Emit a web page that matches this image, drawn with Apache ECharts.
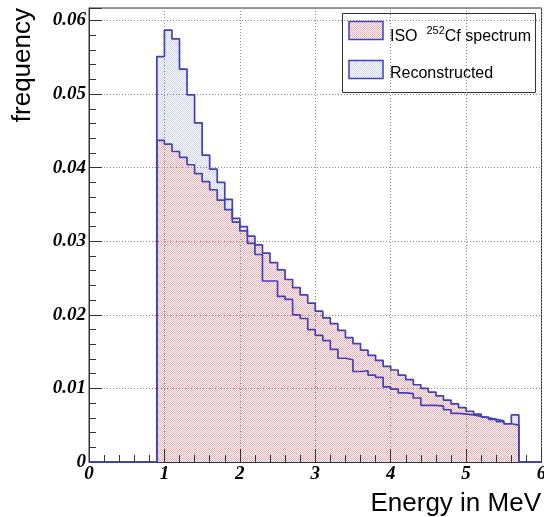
<!DOCTYPE html>
<html>
<head>
<meta charset="utf-8">
<script src="https://cdn.jsdelivr.net/npm/echarts@6/dist/echarts.min.js"></script>
<style>
html,body{margin:0;padding:0;background:#fff;}
#chart{width:544px;height:517px;}
</style>
</head>
<body>
<div id="chart"></div>
<script>
// Lower bin edges (MeV), bin width 0.1
const binLow = [0.0,0.1,0.2,0.3,0.4,0.5,0.6,0.7,0.8,0.9,
  1.0,1.1,1.2,1.3,1.4,1.5,1.6,1.7,1.8,1.9,
  2.0,2.1,2.2,2.3,2.4,2.5,2.6,2.7,2.8,2.9,
  3.0,3.1,3.2,3.3,3.4,3.5,3.6,3.7,3.8,3.9,
  4.0,4.1,4.2,4.3,4.4,4.5,4.6,4.7,4.8,4.9,
  5.0,5.1,5.2,5.3,5.4,5.5,5.6,5.7,5.8,5.9];
const lastEdge = 6.0;

const isoValues = [0,0,0,0,0,0,0,0,0,0.0437,
  0.0432,0.0422,0.0414,0.0404,0.0392,0.0381,0.0370,0.0356,0.0343,0.0326,
  0.0314,0.0307,0.0295,0.0284,0.0271,0.0261,0.0248,0.0237,0.0227,0.0216,
  0.0205,0.0196,0.0188,0.0179,0.0169,0.0161,0.0152,0.0145,0.0138,0.0130,
  0.0125,0.0118,0.0112,0.0105,0.0100,0.0095,0.0090,0.0084,0.0079,0.0074,
  0.0069,0.0065,0.0061,0.0058,0.0055,0.0052,0.0050,0,0,0];

const recoValues = [0,0,0,0,0,0,0,0,0,0.0551,
  0.0587,0.0575,0.0534,0.0499,0.0461,0.0417,0.0398,0.0380,0.0357,0.0331,
  0.0320,0.0297,0.0282,0.0246,0.0246,0.0225,0.0221,0.0200,0.0195,0.0180,
  0.0172,0.0165,0.0153,0.0141,0.0139,0.0123,0.0124,0.0118,0.0115,0.0102,
  0.0099,0.0094,0.0093,0.0087,0.0077,0.0077,0.0076,0.0071,0.0066,0.0065,
  0.0064,0.0062,0.0060,0.0058,0.0056,0.0052,0.0064,0,0,0];

const xTickLabels = ['0','1','2','3','4','5','6'];
const yTickLabels = ['0','0.01','0.02','0.03','0.04','0.05','0.06'];
const seriesNames = ['ISO 252Cf spectrum','Reconstructed'];

function toSteps(vals){
  const pts = binLow.map((x,i)=>[x, vals[i]]);
  pts.push([lastEdge, vals[vals.length-1]]);
  return pts;
}
function makePattern(bg, dot, mask){
  const c = document.createElement('canvas');
  c.width = 2; c.height = 2;
  const g = c.getContext('2d');
  g.fillStyle = bg; g.fillRect(0,0,2,2);
  g.fillStyle = dot;
  mask.forEach(p=>g.fillRect(p[0],p[1],1,1));
  return {image:c, repeat:'repeat'};
}
const redPat = makePattern('#ffffff','#f3a8b0',[[0,0],[1,1]]);
const bluePat = makePattern('#ffffff','#ccd3f1',[[0,0],[1,1]]);
const redPatL = makePattern('#ffffff','#f3a8b0',[[0,0],[1,1]]);
const bluePatL = makePattern('#ffffff','#ccd3f1',[[0,0],[1,1]]);

const edgeBlue = '#4040bc';
const tickFont = {fontFamily:'Liberation Serif', fontWeight:'bold', fontStyle:'italic', fontSize:19, color:'#000'};

const chart = echarts.init(document.getElementById('chart'), null, {renderer:'canvas'});
chart.setOption({
  animation:false,
  backgroundColor:'#fff',
  grid:{left:89, right:2.5, top:8, bottom:55, show:true, borderColor:'#333', borderWidth:1, backgroundColor:'transparent',
        containLabel:false, outerBoundsMode:'none'},
  xAxis:{
    type:'value', min:0, max:6, interval:1, z:5,
    axisLine:{show:true, onZero:false, lineStyle:{color:'#333', width:1}},
    axisTick:{show:true, inside:true, length:13, lineStyle:{color:'#333'}},
    minorTick:{show:true, splitNumber:5, length:7, lineStyle:{color:'#333'}},
    splitLine:{show:true, lineStyle:{color:'#888', type:[1,2], width:1}},
    axisLabel:{margin:3, formatter:(v)=>xTickLabels[Math.round(v)] ?? '', ...tickFont}
  },
  yAxis:{
    type:'value', min:0, max:0.0617, interval:0.01, z:5,
    axisLine:{show:true, lineStyle:{color:'#333', width:1}},
    axisTick:{show:true, inside:true, length:13, lineStyle:{color:'#333'}},
    minorTick:{show:true, splitNumber:5, length:7, lineStyle:{color:'#333'}},
    splitLine:{show:true, lineStyle:{color:'#888', type:[1,2], width:1}},
    axisLabel:{margin:3, showMaxLabel:false, formatter:(v)=>{const i=Math.round(v*100); return (Math.abs(v*100-i)<1e-6 && yTickLabels[i]!==undefined) ? yTickLabels[i] : '';}, ...tickFont}
  },
  series:[
    {name:seriesNames[1], type:'line', step:'end', data:toSteps(recoValues), showSymbol:false, symbol:'none', z:1,
      lineStyle:{width:0, opacity:0}, areaStyle:{color:bluePat, opacity:1}, silent:true},
    {name:seriesNames[0], type:'line', step:'end', data:toSteps(isoValues), showSymbol:false, symbol:'none', z:2,
      lineStyle:{width:0, opacity:0}, areaStyle:{color:redPat, opacity:1}, silent:true},
    {name:seriesNames[1]+' outline', type:'line', step:'end', data:toSteps(recoValues), showSymbol:false, symbol:'none', z:6,
      lineStyle:{width:1.7, color:edgeBlue}},
    {name:seriesNames[0]+' outline', type:'line', step:'end', data:toSteps(isoValues), showSymbol:false, symbol:'none', z:6,
      lineStyle:{width:1.7, color:edgeBlue}}
  ],
  graphic:[
    {type:'text', x:23, y:8, rotation:Math.PI/2, z:10,
      style:{text:'frequency', font:'26px "Liberation Sans"', fill:'#000', align:'right', verticalAlign:'middle'}},
    {type:'text', x:541, y:504, z:10,
      style:{text:'Energy in MeV', font:'26px "Liberation Sans"', fill:'#000', align:'right', verticalAlign:'middle'}},
    {type:'group', z:20, children:[
      {type:'rect', shape:{x:342.5, y:13.5, width:193, height:79}, style:{fill:'#fff', stroke:'#333', lineWidth:1}},
      {type:'rect', shape:{x:349, y:21.5, width:34, height:18}, style:{fill:redPatL, stroke:edgeBlue, lineWidth:1.5}},
      {type:'rect', shape:{x:349, y:60.5, width:34, height:18}, style:{fill:bluePatL, stroke:edgeBlue, lineWidth:1.5}},
      {type:'text', x:390, y:35, style:{text:'{a|ISO  }{s|252}{a|Cf spectrum}', verticalAlign:'middle', align:'left',
        rich:{a:{font:'16px "Liberation Sans"', fill:'#000', verticalAlign:'bottom', lineHeight:19},
              s:{font:'11px "Liberation Sans"', fill:'#000', verticalAlign:'top', lineHeight:19}}}},
      {type:'text', x:390, y:74, style:{text:'Reconstructed', font:'16px "Liberation Sans"', fill:'#000', verticalAlign:'middle', align:'left'}}
    ]}
  ]
});
</script>
</body>
</html>
